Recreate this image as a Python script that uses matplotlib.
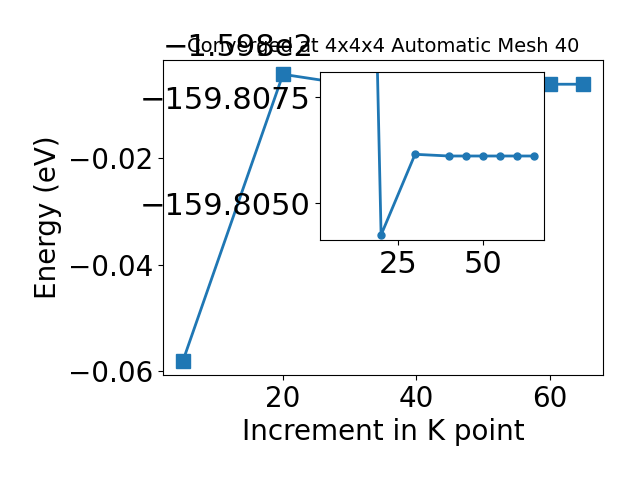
import matplotlib
matplotlib.use("Agg")
import matplotlib.pyplot as plt

kpoints = [5, 20, 30, 40, 45, 50, 55, 60, 65]
energy = [-159.858, -159.80425, -159.80615, -159.80611, -159.80611, -159.80611,
          -159.80611, -159.80611, -159.80611]
inset_yticks = [-159.8075, -159.8050]

title = "Converged at 4x4x4 Automatic Mesh 40"

fig = plt.figure(figsize=(6.4, 4.8), dpi=100)
ax = fig.add_axes([163/640, 1-375/480, 440/640, 315/480])
ax.plot(kpoints, energy, marker='s', markersize=10, linewidth=2, color='C0')
ax.set_xlabel("Increment in K point", fontsize=20)
ax.set_ylabel("Energy (eV)", fontsize=20)
ax.tick_params(labelsize=20)
ax.yaxis.get_offset_text().set_fontsize(22)
ax.set_title(title, fontsize=14, y=1.0, pad=6)

ins = fig.add_axes([0.5, 0.5, 0.35, 0.35])
ins.plot(kpoints, energy, marker='o', markersize=5, linewidth=2, color='C0')
ins.set_ylim(-159.80413, -159.80809)
ins.set_yticks(inset_yticks)
ins.tick_params(labelsize=22)
ins.ticklabel_format(axis='y', useOffset=False)

fig.savefig("out.png", dpi=100)
